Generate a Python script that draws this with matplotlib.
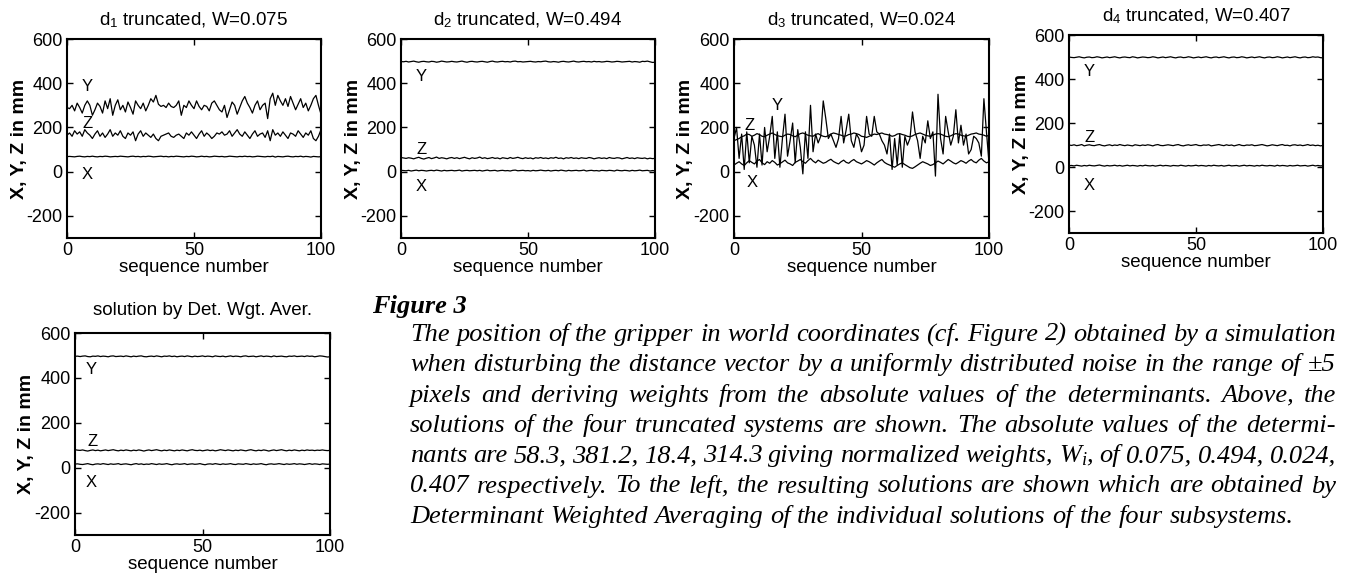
import numpy as np
import matplotlib
matplotlib.use("Agg")
import matplotlib.pyplot as plt

plt.rcParams['font.family'] = ['Liberation Sans', 'DejaVu Sans']
plt.rcParams['mathtext.fontset'] = 'custom'
plt.rcParams['mathtext.rm'] = 'Liberation Sans'
plt.rcParams['mathtext.it'] = 'Liberation Serif:italic'
plt.rcParams['axes.unicode_minus'] = False

seq = np.arange(101)

# d1 truncated
d1_y = [290, 285, 300, 275, 310, 290, 265, 300, 320, 300,
        255, 280, 310, 295, 265, 320, 285, 330, 255, 300,
        325, 280, 300, 270, 315, 290, 260, 320, 300, 285,
        310, 275, 300, 330, 315, 345, 305, 295, 300, 290,
        310, 295, 290, 300, 320, 255, 300, 290, 320, 300,
        285, 320, 295, 280, 300, 295, 275, 310, 320, 300,
        280, 270, 300, 245, 280, 315, 300, 260, 290, 320,
        340, 310, 290, 265, 300, 320, 280, 300, 310, 240,
        330, 355, 300, 345, 320, 300, 330, 295, 340, 310,
        280, 305, 330, 290, 310, 275, 300, 330, 345, 300,
        260]
d1_z = [165, 175, 160, 185, 170, 180, 160, 190, 175, 165,
        150, 170, 185, 160, 175, 155, 170, 190, 160, 175,
        165, 185, 160, 150, 175, 165, 180, 140, 170, 185,
        160, 175, 165, 155, 170, 150, 140, 160, 165, 170,
        175, 160, 155, 165, 170, 160, 150, 175, 165, 180,
        165, 150, 170, 185, 160, 175, 165, 150, 160, 175,
        170, 180, 165, 170, 185, 160, 175, 190, 170, 160,
        180, 165, 150, 170, 185, 160, 170, 175, 155, 185,
        140, 190, 165, 175, 160, 180, 165, 150, 175, 170,
        160, 185, 170, 155, 175, 165, 185, 150, 140, 160,
        190]
d1_x = [68, 69, 68, 67, 69, 70, 68, 67, 69, 68,
        70, 68, 67, 69, 68, 70, 69, 67, 68, 69,
        68, 70, 69, 68, 67, 69, 70, 68, 69, 67,
        69, 68, 70, 69, 67, 68, 69, 70, 68, 69,
        67, 69, 68, 70, 69, 68, 67, 69, 68, 70,
        69, 67, 68, 70, 68, 69, 67, 68, 70, 69,
        68, 69, 67, 68, 70, 69, 68, 67, 69, 68,
        70, 68, 69, 67, 68, 70, 69, 68, 67, 69,
        68, 70, 66, 69, 68, 67, 69, 70, 68, 67,
        69, 68, 70, 67, 69, 68, 66, 69, 68, 67,
        68]

# d2 truncated
d2_y = [498, 497, 499, 496, 498, 500, 497, 495, 498, 499,
        497, 496, 499, 498, 495, 497, 500, 498, 496, 497,
        499, 497, 496, 498, 500, 497, 495, 498, 499, 497,
        496, 498, 499, 497, 495, 498, 500, 497, 496, 498,
        499, 497, 498, 496, 499, 500, 497, 498, 496, 497,
        498, 499, 497, 496, 498, 497, 499, 500, 497, 496,
        498, 497, 495, 498, 499, 497, 496, 498, 500, 497,
        496, 498, 499, 497, 498, 496, 499, 497, 498, 496,
        497, 499, 498, 496, 497, 499, 498, 496, 497, 498,
        499, 496, 498, 497, 495, 499, 498, 500, 497, 494,
        495]
d2_z = [64, 62, 60, 63, 61, 58, 62, 65, 60, 57,
        61, 64, 59, 62, 66, 60, 63, 61, 58, 62,
        64, 60, 63, 59, 62, 65, 61, 58, 63, 60,
        62, 66, 60, 63, 59, 61, 64, 60, 62, 58,
        63, 61, 59, 64, 60, 62, 65, 61, 59, 63,
        60, 62, 58, 63, 61, 64, 60, 62, 59, 63,
        61, 65, 60, 62, 58, 63, 61, 64, 60, 62,
        59, 63, 61, 60, 64, 62, 58, 61, 63, 60,
        62, 59, 64, 61, 60, 63, 62, 58, 61, 64,
        60, 62, 59, 63, 61, 60, 62, 58, 61, 59,
        60]
d2_x = [6, 5, 4, 6, 3, 5, 7, 4, 6, 5,
        3, 5, 6, 4, 7, 5, 3, 6, 4, 5,
        6, 4, 5, 7, 3, 5, 6, 4, 5, 6,
        4, 6, 3, 5, 7, 4, 5, 6, 3, 5,
        6, 4, 5, 3, 6, 7, 4, 5, 6, 4,
        5, 3, 6, 4, 5, 7, 5, 4, 6, 3,
        5, 6, 4, 7, 5, 3, 6, 4, 5, 6,
        4, 5, 7, 3, 5, 6, 4, 5, 3, 6,
        5, 4, 6, 5, 3, 7, 5, 4, 6, 5,
        3, 6, 4, 5, 7, 4, 5, 6, 3, 5,
        4]

# d3 truncated
d3_y = [150, 200, 60, 170, 10, 180, 40, 160, 120, 20,
        170, 30, 200, 90, 160, 250, 60, 180, 20, 150,
        260, 70, 140, 220, 40, 190, 110, -10, 180, 60,
        300, 90, 170, 130, 160, 320, 240, 150, 170, 140,
        110, 150, 250, 130, 190, 260, 140, 110, 170, 150,
        90, 120, 250, 170, 160, 250, 180, 170, 140, 120,
        80, 170, 10, 150, 30, 170, 20, 160, 120, 150,
        270, 180, 140, 60, 160, 130, 230, 150, 180, -20,
        350, 150, 80, 250, 180, 120, 160, 280, 130, 210,
        120, 170, 80, 100, 160, 150, 130, 70, 330, 180,
        40]
d3_z = [140, 145, 150, 158, 162, 170, 168, 160, 165, 172,
        168, 160, 158, 165, 170, 175, 168, 163, 160, 158,
        165, 170, 168, 162, 158, 165, 172, 175, 170, 165,
        162, 160, 168, 172, 165, 160, 158, 163, 170, 175,
        172, 168, 165, 160, 162, 168, 170, 175, 172, 168,
        160, 158, 155, 160, 165, 170, 168, 172, 175, 170,
        168, 165, 160, 163, 170, 172, 168, 165, 160, 158,
        162, 168, 172, 175, 170, 165, 162, 160, 165, 170,
        172, 170, 165, 160, 158, 162, 168, 172, 170, 165,
        162, 160, 165, 170, 172, 175, 170, 168, 165, 160,
        165]
d3_x = [30, 38, 45, 35, 28, 40, 50, 42, 35, 48,
        55, 40, 32, 45, 38, 50, 42, 30, 36, 44,
        52, 40, 35, 28, 42, 48, 55, 45, 38, 50,
        60, 48, 40, 52, 45, 38, 42, 50, 56, 46,
        40, 35, 45, 52, 42, 38, 48, 55, 45, 40,
        35, 42, 50, 45, 38, 30, 40, 48, 55, 42,
        35, 30, 25, 20, 28, 35, 40, 32, 25, 18,
        15, 22, 30, 38, 45, 40, 35, 28, 32, 40,
        48, 42, 35, 45, 55, 48, 40, 35, 42, 50,
        45, 38, 48, 55, 45, 40, 52, 60, 48, 40,
        45]

# d4 truncated
d4_y = [500, 498, 497, 499, 501, 498, 496, 499, 500, 497,
        498, 501, 499, 496, 498, 500, 497, 499, 501, 498,
        496, 499, 500, 498, 497, 501, 499, 496, 498, 500,
        499, 497, 498, 501, 499, 496, 498, 500, 497, 499,
        501, 498, 496, 499, 500, 497, 498, 501, 499, 496,
        498, 500, 497, 499, 501, 498, 496, 499, 500, 497,
        499, 501, 498, 496, 499, 500, 497, 498, 501, 499,
        496, 498, 500, 497, 499, 501, 498, 496, 499, 500,
        497, 498, 501, 499, 496, 498, 500, 497, 499, 501,
        498, 496, 499, 500, 497, 498, 501, 499, 500, 497,
        496]
d4_z = [100, 98, 101, 97, 99, 102, 96, 99, 101, 98,
        97, 100, 102, 98, 96, 99, 101, 97, 100, 98,
        102, 99, 97, 100, 98, 96, 101, 99, 97, 100,
        98, 101, 99, 96, 100, 102, 98, 97, 99, 101,
        99, 97, 100, 102, 98, 96, 99, 101, 98, 100,
        102, 98, 97, 100, 99, 101, 96, 98, 100, 102,
        99, 97, 101, 98, 100, 96, 99, 102, 98, 97,
        100, 99, 101, 97, 98, 100, 102, 99, 96, 98,
        101, 99, 97, 100, 102, 98, 99, 96, 100, 101,
        98, 100, 97, 99, 102, 98, 100, 97, 99, 96,
        98]
d4_x = [6, 7, 5, 8, 6, 4, 7, 5, 8, 6,
        5, 7, 9, 6, 4, 7, 5, 6, 8, 5,
        7, 4, 6, 8, 5, 7, 6, 4, 7, 5,
        8, 6, 5, 7, 4, 6, 8, 5, 7, 6,
        4, 7, 6, 5, 8, 6, 4, 7, 5, 6,
        8, 5, 7, 6, 4, 7, 5, 8, 6, 5,
        7, 4, 6, 8, 5, 6, 7, 4, 6, 8,
        5, 7, 6, 4, 7, 5, 8, 6, 5, 7,
        6, 4, 8, 5, 7, 6, 4, 7, 5, 6,
        8, 5, 6, 7, 4, 6, 8, 5, 7, 5,
        6]

# determinant weighted average
avg_y = [496, 497, 495, 497, 498, 495, 494, 497, 496, 498,
         495, 497, 496, 494, 497, 498, 495, 496, 497, 495,
         498, 496, 494, 497, 495, 497, 498, 495, 494, 496,
         497, 495, 498, 496, 494, 497, 496, 498, 495, 497,
         494, 496, 497, 495, 498, 496, 494, 497, 495, 496,
         498, 495, 497, 496, 494, 498, 496, 495, 497, 494,
         496, 498, 495, 497, 496, 494, 497, 498, 495, 496,
         497, 494, 496, 498, 495, 497, 496, 494, 498, 495,
         496, 497, 495, 494, 497, 496, 498, 495, 496, 497,
         495, 498, 496, 497, 494, 496, 498, 497, 495, 493,
         494]
avg_z = [80, 78, 77, 79, 76, 74, 77, 79, 76, 78,
         75, 77, 79, 76, 78, 80, 77, 75, 78, 76,
         79, 77, 75, 78, 76, 79, 77, 74, 77, 79,
         76, 78, 80, 77, 75, 78, 76, 79, 77, 75,
         78, 76, 79, 77, 75, 78, 80, 77, 76, 78,
         75, 77, 79, 76, 78, 75, 77, 80, 78, 76,
         79, 77, 75, 78, 76, 79, 77, 75, 78, 80,
         77, 75, 78, 76, 79, 77, 74, 77, 79, 76,
         78, 80, 77, 75, 78, 76, 79, 77, 75, 78,
         76, 79, 77, 78, 76, 78, 77, 79, 77, 76,
         77]
avg_x = [16, 17, 15, 14, 16, 18, 15, 13, 16, 17,
         15, 18, 16, 14, 17, 15, 16, 18, 14, 16,
         17, 15, 13, 16, 18, 15, 17, 14, 16, 15,
         18, 16, 14, 17, 15, 16, 18, 15, 13, 16,
         17, 15, 16, 18, 14, 16, 17, 15, 16, 18,
         15, 13, 16, 17, 15, 18, 16, 14, 17, 15,
         16, 18, 15, 14, 17, 16, 15, 18, 16, 14,
         17, 15, 16, 18, 15, 13, 16, 17, 15, 16,
         18, 16, 14, 17, 15, 16, 18, 15, 17, 16,
         14, 16, 18, 15, 17, 16, 14, 17, 16, 15,
         16]

titles = [r"d$_1$ truncated, W=0.075", r"d$_2$ truncated, W=0.494",
          r"d$_3$ truncated, W=0.024", r"d$_4$ truncated, W=0.407",
          "solution by Det. Wgt. Aver."]
series = [(d1_x, d1_y, d1_z), (d2_x, d2_y, d2_z), (d3_x, d3_y, d3_z),
          (d4_x, d4_y, d4_z), (avg_x, avg_y, avg_z)]
# where the X / Y / Z names sit in each panel (seq, value)
name_pos = [[(8, -15), (8, 383), (8, 216)],
            [(8, -65), (8, 432), (8, 102)],
            [(7, -50), (17, 300), (6, 208)],
            [(8, -83), (8, 434), (8, 136)],
            [(6.5, -67), (6.5, 436), (7, 116)]]

W, H = 1350, 573
fig = plt.figure(figsize=(W / 100, H / 100), dpi=100)

# axes boxes in pixels: left, top, right, bottom
boxes = [(67, 39, 321, 238), (401, 39, 655, 238), (734, 39, 989, 238),
         (1069, 35, 1323, 233), (75, 333, 330, 535)]
title_pads = [10, 10, 10, 10, 13]

for i in range(5):
    l, t, r, b = boxes[i]
    ax = fig.add_axes([l / W, 1 - b / H, (r - l) / W, (b - t) / H])
    for vals in series[i]:
        ax.plot(seq, vals, color='k', lw=0.9)
    for (px, py), name in zip(name_pos[i], ['X', 'Y', 'Z']):
        ax.text(px, py, name, fontsize=12, ha='center', va='center')
    ax.set_xlim(0, 100)
    ax.set_ylim(-300, 600)
    ax.set_xticks([0, 50, 100])
    ax.set_yticks([-200, 0, 200, 400, 600])
    ax.tick_params(direction='in', top=True, right=True, length=4,
                   width=1, labelsize=13, pad=3)
    for s in ax.spines.values():
        s.set_linewidth(1.5)
    ax.set_title(titles[i], fontsize=13.5, pad=title_pads[i])
    ax.set_xlabel('sequence number', fontsize=13.5, labelpad=0)
    ax.set_ylabel('X, Y, Z in mm', fontsize=14, fontweight='bold')
    ax.yaxis.set_label_coords(-0.155, 0.5)

# caption, justified word by word
caption = [
    "The position of the gripper in world coordinates (cf. Figure 2) obtained by a simulation",
    "when disturbing the distance vector by a uniformly distributed noise in the range of \u00b15",
    "pixels and deriving weights from the absolute values of the determinants. Above, the",
    "solutions of the four truncated systems are shown. The absolute values of the determi-",
    "nants are 58.3, 381.2, 18.4, 314.3 giving normalized weights, W$_i$, of 0.075, 0.494, 0.024,",
    "0.407 respectively. To the left, the resulting solutions are shown which are obtained by",
    "Determinant Weighted Averaging of the individual solutions of the four subsystems.",
]
cap_size = 19
cap_kw = dict(family='Liberation Serif', style='italic', fontsize=cap_size, va='baseline')
fig.text(372 / W, 1 - 313 / H, "Figure 3", family='Liberation Serif',
         style='italic', weight='bold', fontsize=cap_size, va='baseline')

renderer = fig.canvas.get_renderer()
x0, x1 = 410, 1336
for k, line in enumerate(caption):
    yb = 341 + 30.3 * k
    words = line.split(' ')
    objs = [fig.text(0, 1 - yb / H, w, **cap_kw) for w in words]
    widths = [o.get_window_extent(renderer).width for o in objs]
    if k < len(caption) - 1:
        gap = (x1 - x0 - sum(widths)) / (len(words) - 1)
    else:
        gap = cap_size * 100 / 72 * 0.25
    x = x0
    for o, wd in zip(objs, widths):
        o.set_x(x / W)
        x += wd + gap

fig.savefig('out.png', dpi=100)
